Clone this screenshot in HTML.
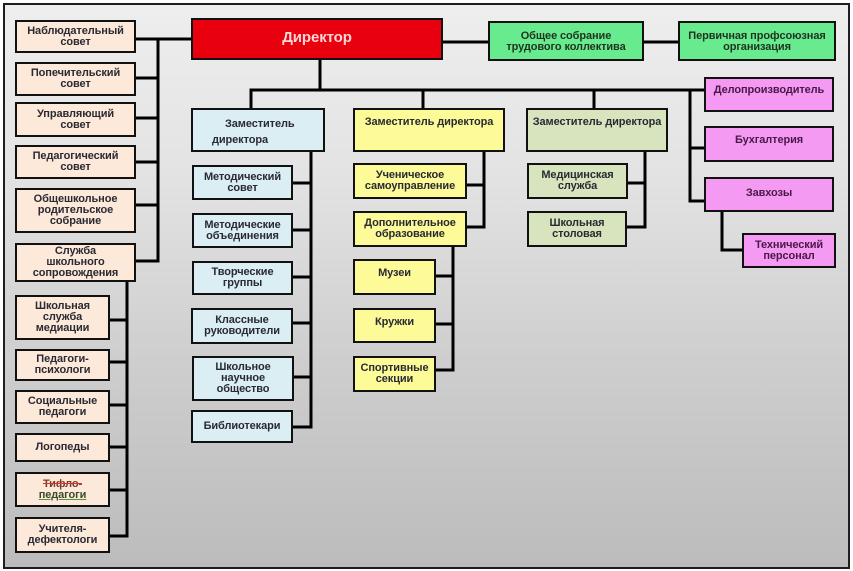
<!DOCTYPE html>
<html><head><meta charset="utf-8">
<style>
html,body{margin:0;padding:0;background:#fff;}
#wrap{position:relative;width:853px;height:571px;overflow:hidden;background:#fff;}
#frame{position:absolute;left:3px;top:3px;width:847px;height:566px;box-sizing:border-box;border:2px solid #1e1e1e;
background:linear-gradient(to bottom,#eeeeee 0%,#e3e3e3 30%,#cdcdcd 65%,#bcbcbc 100%);}
svg{position:absolute;left:0;top:0;}
.b{position:absolute;box-sizing:border-box;border:2px solid #111;display:flex;align-items:center;justify-content:center;text-align:center;
font-family:"Liberation Sans","Noto Sans CJK JP",sans-serif;font-weight:bold;font-size:11px;line-height:11px;color:#2a2a33;letter-spacing:-0.1px;}
.p{background:#fde9d9;}
.bl{background:#dbeef3;}
.y{background:#fdfb98;}
.g{background:#d7e4bd;}
.gg{background:#68ea8e;color:#1f3320;}
.pk{background:#f49af2;color:#4a1848;}
.top{align-items:flex-start;padding-top:8px;}
</style></head>
<body>
<div id="wrap">
<div id="frame"></div>
<svg width="853" height="571" viewBox="0 0 853 571">
<g stroke="#000" stroke-width="3" fill="none" stroke-linecap="square">
<line x1="136" y1="39" x2="191" y2="39"/>
<line x1="158" y1="39" x2="158" y2="261"/>
<line x1="136" y1="78" x2="158" y2="78"/>
<line x1="136" y1="118" x2="158" y2="118"/>
<line x1="136" y1="162" x2="158" y2="162"/>
<line x1="136" y1="205" x2="158" y2="205"/>
<line x1="136" y1="261" x2="158" y2="261"/>
<line x1="127" y1="282" x2="127" y2="536"/>
<line x1="110" y1="320" x2="127" y2="320"/>
<line x1="110" y1="362" x2="127" y2="362"/>
<line x1="110" y1="405" x2="127" y2="405"/>
<line x1="110" y1="447" x2="127" y2="447"/>
<line x1="110" y1="490" x2="127" y2="490"/>
<line x1="110" y1="536" x2="127" y2="536"/>
<line x1="443" y1="42" x2="488" y2="42"/>
<line x1="644" y1="42" x2="678" y2="42"/>
<line x1="320" y1="60" x2="320" y2="90"/>
<line x1="251" y1="90" x2="704" y2="90"/>
<line x1="251" y1="90" x2="251" y2="108"/>
<line x1="423" y1="90" x2="423" y2="108"/>
<line x1="594" y1="90" x2="594" y2="108"/>
<line x1="690" y1="90" x2="690" y2="201"/>
<line x1="690" y1="148" x2="704" y2="148"/>
<line x1="690" y1="201" x2="704" y2="201"/>
<line x1="722" y1="212" x2="722" y2="250"/>
<line x1="722" y1="250" x2="742" y2="250"/>
<line x1="311" y1="152" x2="311" y2="427"/>
<line x1="293" y1="183" x2="311" y2="183"/>
<line x1="293" y1="230" x2="311" y2="230"/>
<line x1="293" y1="277" x2="311" y2="277"/>
<line x1="293" y1="323" x2="311" y2="323"/>
<line x1="294" y1="377" x2="311" y2="377"/>
<line x1="293" y1="427" x2="311" y2="427"/>
<line x1="484" y1="152" x2="484" y2="227"/>
<line x1="467" y1="185" x2="484" y2="185"/>
<line x1="467" y1="227" x2="484" y2="227"/>
<line x1="453" y1="247" x2="453" y2="370"/>
<line x1="436" y1="276" x2="453" y2="276"/>
<line x1="436" y1="324" x2="453" y2="324"/>
<line x1="436" y1="370" x2="453" y2="370"/>
<line x1="645" y1="152" x2="645" y2="227"/>
<line x1="628" y1="183" x2="645" y2="183"/>
<line x1="627" y1="227" x2="645" y2="227"/>
</g>
</svg>

<div class="b" style="left:191px;top:18px;width:252px;height:42px;background:#e8000e;color:#ffd6d6;font-size:15px;line-height:16px;align-items:flex-start;padding-top:10px;">Директор</div>
<div class="b gg" style="left:488px;top:21px;width:156px;height:40px;align-items:flex-start;padding-top:8px;">Общее собрание<br>трудового коллектива</div>
<div class="b gg" style="left:678px;top:21px;width:158px;height:40px;align-items:flex-start;padding-top:8px;">Первичная профсоюзная<br>организация</div>

<div class="b p" style="left:15px;top:20px;width:121px;height:33px;">Наблюдательный<br>совет</div>
<div class="b p" style="left:15px;top:62px;width:121px;height:34px;">Попечительский<br>совет</div>
<div class="b p" style="left:15px;top:102px;width:121px;height:35px;">Управляющий<br>совет</div>
<div class="b p" style="left:15px;top:145px;width:121px;height:34px;">Педагогический<br>совет</div>
<div class="b p" style="left:15px;top:188px;width:121px;height:45px;">Общешкольное<br>родительское<br>собрание</div>
<div class="b p" style="left:15px;top:243px;width:121px;height:39px;">Служба<br>школьного<br>сопровождения</div>

<div class="b p" style="left:15px;top:295px;width:95px;height:45px;">Школьная<br>служба<br>медиации</div>
<div class="b p" style="left:15px;top:349px;width:95px;height:32px;">Педагоги-<br>психологи</div>
<div class="b p" style="left:15px;top:390px;width:95px;height:34px;">Социальные<br>педагоги</div>
<div class="b p" style="left:15px;top:433px;width:95px;height:29px;">Логопеды</div>
<div class="b p" style="left:15px;top:472px;width:95px;height:35px;"><span><span style="color:#7a3a2a;text-decoration:line-through;text-decoration-color:#d03a2a;">Тифло-</span><br><span style="color:#3a4a2a;text-decoration:underline;text-decoration-color:#4a9a3a;">педагоги</span></span></div>
<div class="b p" style="left:15px;top:517px;width:95px;height:36px;">Учителя-<br>дефектологи</div>

<div class="b bl" style="left:191px;top:108px;width:134px;height:44px;display:block;text-align:left;">
<div style="position:absolute;left:32px;top:9px;">Заместитель</div>
<div style="position:absolute;left:19px;top:25px;">директора</div>
</div>
<div class="b bl" style="left:192px;top:165px;width:101px;height:35px;">Методический<br>совет</div>
<div class="b bl" style="left:192px;top:213px;width:101px;height:35px;">Методические<br>объединения</div>
<div class="b bl" style="left:192px;top:261px;width:101px;height:34px;">Творческие<br>группы</div>
<div class="b bl" style="left:191px;top:308px;width:102px;height:36px;">Классные<br>руководители</div>
<div class="b bl" style="left:192px;top:356px;width:102px;height:45px;">Школьное<br>научное<br>общество</div>
<div class="b bl" style="left:191px;top:410px;width:102px;height:33px;">Библиотекари</div>

<div class="b y top" style="left:353px;top:108px;width:152px;height:44px;padding-top:7px;">Заместитель директора</div>
<div class="b y" style="left:353px;top:163px;width:114px;height:36px;">Ученическое<br>самоуправление</div>
<div class="b y" style="left:353px;top:211px;width:114px;height:36px;">Дополнительное<br>образование</div>
<div class="b y top" style="left:353px;top:259px;width:83px;height:36px;padding-top:7px;">Музеи</div>
<div class="b y top" style="left:353px;top:308px;width:83px;height:35px;padding-top:7px;">Кружки</div>
<div class="b y" style="left:353px;top:356px;width:83px;height:36px;">Спортивные<br>секции</div>

<div class="b g top" style="left:526px;top:108px;width:142px;height:44px;padding-top:7px;">Заместитель директора</div>
<div class="b g" style="left:527px;top:163px;width:101px;height:36px;">Медицинская<br>служба</div>
<div class="b g" style="left:527px;top:211px;width:100px;height:36px;">Школьная<br>столовая</div>

<div class="b pk top" style="left:704px;top:77px;width:130px;height:35px;padding-top:6px;">Делопроизводитель</div>
<div class="b pk top" style="left:704px;top:126px;width:130px;height:36px;padding-top:7px;">Бухгалтерия</div>
<div class="b pk top" style="left:704px;top:177px;width:130px;height:35px;padding-top:9px;">Завхозы</div>
<div class="b pk" style="left:742px;top:233px;width:94px;height:35px;">Технический<br>персонал</div>
</div>
</body></html>
